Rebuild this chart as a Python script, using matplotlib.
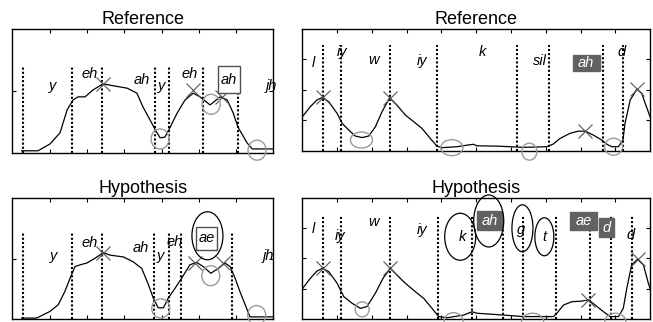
import numpy as np
import matplotlib.pyplot as plt
from matplotlib.patches import Ellipse, Rectangle

plt.rcParams['font.family'] = ['Liberation Sans', 'DejaVu Sans']

FIG_W, FIG_H = 653, 322

# ---------- top left: Reference, utterance 1 ----------
tl_curve_x = [0.25, 0.69, 1.01, 1.28, 1.47, 1.63, 1.76, 1.95, 2.16, 2.43, 2.70, 3.08, 3.34, 3.50, 3.69, 3.83,
              3.96, 4.09, 4.23, 4.42, 4.63, 4.85, 5.03, 5.30, 5.57, 5.76, 5.92, 6.05, 6.29, 6.43, 6.99]
tl_curve_y = [0.04, 0.04, 0.15, 0.33, 0.70, 0.86, 0.91, 0.91, 1.02, 1.12, 1.09, 1.05, 0.97, 0.75, 0.54, 0.38,
              0.25, 0.26, 0.42, 0.65, 0.86, 0.97, 0.91, 0.78, 0.91, 0.86, 0.65, 0.42, 0.17, 0.07, 0.07]
tl_cross_x = [2.43, 4.85, 5.61]
tl_cross_y = [1.12, 1.02, 0.91]
tl_circ_x = [3.96, 5.33, 6.56]
tl_circ_y = [0.23, 0.79, 0.05]
tl_bounds = [0.30, 1.61, 2.41, 3.82, 4.21, 5.12, 6.06]
tl_labels = ['y', 'eh', 'ah', 'y', 'eh', 'ah', 'jh']
tl_lab_x = [1.09, 2.06, 3.48, 3.99, 4.76, 5.81, 6.94]
tl_lab_y = [1.09, 1.28, 1.18, 1.09, 1.28, 1.19, 1.09]
tl_kinds = ['plain', 'plain', 'plain', 'plain', 'plain', 'frame', 'plain']

# ---------- bottom left: Hypothesis, utterance 1 ----------
bl_curve_x = [0.25, 0.65, 1.01, 1.23, 1.41, 1.55, 1.68, 1.82, 2.00, 2.22, 2.44, 2.62, 2.98, 3.24, 3.47, 3.65,
              3.78, 3.91, 4.05, 4.18, 4.36, 4.54, 4.76, 4.94, 5.12, 5.32, 5.52, 5.70, 5.84, 5.97, 6.10, 6.28,
              6.37, 7.00]
bl_curve_y = [0.02, 0.02, 0.13, 0.24, 0.46, 0.68, 0.87, 0.90, 0.93, 1.01, 1.10, 1.06, 1.03, 0.95, 0.84, 0.57,
              0.35, 0.19, 0.19, 0.35, 0.51, 0.68, 0.90, 0.94, 0.87, 0.76, 0.84, 0.93, 0.87, 0.68, 0.46, 0.18,
              0.04, 0.04]
bl_cross_x = [2.44, 4.90, 5.64]
bl_cross_y = [1.10, 0.93, 0.93]
bl_circ_x = [3.98, 5.32, 6.55]
bl_circ_y = [0.18, 0.72, 0.07]
bl_bounds = [0.30, 1.61, 2.40, 3.81, 4.21, 4.52, 5.90]
bl_labels = ['y', 'eh', 'ah', 'y', 'eh', 'ae', 'jh']
bl_lab_x = [1.10, 2.06, 3.44, 3.98, 4.36, 5.21, 6.86]
bl_lab_y = [1.05, 1.26, 1.17, 1.05, 1.27, 1.34, 1.05]
bl_kinds = ['plain', 'plain', 'plain', 'plain', 'plain', 'frame', 'plain']
bl_err_x = [5.23]
bl_err_y = [1.38]

# ---------- top right: Reference, utterance 2 ----------
tr_curve_x = [0.0, 0.23, 0.42, 0.58, 0.76, 1.00, 1.14, 1.33, 1.52, 1.72, 1.91, 2.10, 2.29, 2.51, 2.72, 2.96,
              3.20, 3.44, 3.68, 3.87, 4.01, 4.45, 4.73, 4.92, 5.02, 5.59, 6.36, 7.03, 7.22, 7.41, 7.70, 7.94,
              8.13, 8.37, 8.61, 8.76, 8.90, 9.09, 9.22, 9.28, 9.43, 9.62, 9.76, 9.86, 10.0]
tr_curve_y = [1.12, 1.45, 1.67, 1.75, 1.61, 1.23, 0.91, 0.69, 0.49, 0.44, 0.49, 0.79, 1.28, 1.74, 1.50, 1.18,
              0.96, 0.74, 0.41, 0.16, 0.11, 0.14, 0.19, 0.22, 0.17, 0.16, 0.12, 0.14, 0.23, 0.41, 0.58, 0.65,
              0.65, 0.52, 0.36, 0.22, 0.14, 0.14, 0.36, 0.91, 1.67, 2.02, 1.89, 1.56, 1.12]
tr_cross_x = [0.58, 2.51, 8.13, 9.62]
tr_cross_y = [1.75, 1.74, 0.66, 2.02]
tr_circ_x = [1.70, 4.30, 6.53, 8.95]
tr_circ_y = [0.36, 0.11, -0.02, 0.14]
tr_bounds = [0.58, 1.11, 2.51, 3.87, 6.17, 7.08, 8.66, 9.23]
tr_labels = ['l', 'iy', 'w', 'iy', 'k', 'sil', 'ah', 'd']
tr_lab_x = [0.32, 1.14, 2.05, 3.44, 5.19, 6.82, 8.16, 9.19]
tr_lab_y = [2.87, 3.25, 2.99, 2.94, 3.25, 2.94, 2.88, 3.25]
tr_kinds = ['plain', 'plain', 'plain', 'plain', 'plain', 'plain', 'dark', 'plain']

# ---------- bottom right: Hypothesis, utterance 2 ----------
br_curve_x = [0.01, 0.23, 0.42, 0.58, 0.76, 1.00, 1.19, 1.43, 1.67, 1.86, 2.10, 2.32, 2.53, 2.72, 2.96, 3.25,
              3.49, 3.73, 3.92, 4.16, 4.64, 4.88, 5.02, 5.79, 6.36, 7.22, 7.32, 7.51, 7.75, 8.04, 8.23, 8.42,
              8.66, 8.85, 9.09, 9.23, 9.33, 9.47, 9.64, 9.81, 9.95, 10.0]
br_curve_y = [1.01, 1.34, 1.58, 1.67, 1.56, 1.18, 0.74, 0.52, 0.35, 0.41, 0.85, 1.34, 1.67, 1.45, 1.18, 0.90,
              0.68, 0.35, 0.08, 0.04, 0.13, 0.24, 0.19, 0.13, 0.08, 0.08, 0.19, 0.46, 0.57, 0.59, 0.63, 0.46,
              0.24, 0.08, 0.08, 0.35, 1.01, 1.78, 1.97, 1.78, 1.18, 1.01]
br_cross_x = [0.58, 2.53, 8.22, 9.64]
br_cross_y = [1.67, 1.67, 0.63, 1.97]
br_circ_x = [1.72, 4.35, 6.62, 9.00]
br_circ_y = [0.32, -0.07, -0.09, -0.09]
br_bounds = [0.58, 1.11, 2.51, 3.89, 4.89, 5.78, 6.36, 7.30, 8.26, 8.87, 9.47]
br_labels = ['l', 'iy', 'w', 'iy', 'k', 'ah', 'g', 't', 'ae', 'd', 'd']
br_lab_x = [0.32, 1.09, 2.05, 3.44, 4.59, 5.39, 6.28, 6.96, 8.08, 8.74, 9.43]
br_lab_y = [2.98, 2.74, 3.21, 2.94, 2.71, 3.24, 2.94, 2.71, 3.24, 3.01, 2.77]
br_kinds = ['plain', 'plain', 'plain', 'plain', 'plain', 'dark', 'plain', 'plain', 'dark', 'dark', 'plain']
br_err_x = [4.54, 5.36, 6.33, 6.96]
br_err_y = [2.71, 3.23, 2.99, 2.71]


def px_to_data(ax, w_px, h_px):
    pos = ax.get_position()
    x0, x1 = ax.get_xlim()
    y0, y1 = ax.get_ylim()
    return (w_px * (x1 - x0) / (pos.width * FIG_W),
            h_px * (y1 - y0) / (pos.height * FIG_H))


def draw_panel(ax, title, xmax, ymax, cx, cy, kx, ky, ox, oy, circ_sizes, bounds, bound_top,
               labels, lx, ly, kinds, box_sizes, ex=(), ey=(), err_sizes=()):
    ax.set_xlim(0, xmax)
    ax.set_ylim(0, ymax)
    ax.set_xticks(range(1, xmax))
    ax.set_yticks(range(1, ymax))
    ax.tick_params(direction='in', length=3, width=0.8, top=True, right=True,
                   labelbottom=False, labelleft=False)
    for s in ax.spines.values():
        s.set_linewidth(1.0)
    ax.set_title(title, fontsize=13, pad=3.5)

    ax.vlines(bounds, 0, bound_top, colors='k', linestyles=(0, (1, 1.0)), lw=1.5, zorder=1)
    ax.plot(cx, cy, color='k', lw=0.9, zorder=2)
    ax.plot(kx, ky, 'x', color='#555555', ms=10, mew=0.8, zorder=2)

    for x, y, (w, h) in zip(ox, oy, circ_sizes):
        dw, dh = px_to_data(ax, w, h)
        ax.add_patch(Ellipse((x, y), dw, dh, fill=False, ec='#9a9a9a', lw=1.0, clip_on=False, zorder=3))

    for x, y, (w, h) in zip(ex, ey, err_sizes):
        dw, dh = px_to_data(ax, w, h)
        ax.add_patch(Ellipse((x, y), dw, dh, fill=False, ec='k', lw=0.9, clip_on=False, zorder=5))

    bi = 0
    for t, x, y, k in zip(labels, lx, ly, kinds):
        color = 'k'
        if k != 'plain':
            w, h = box_sizes[bi]
            bi += 1
            dw, dh = px_to_data(ax, w, h)
            if k == 'dark':
                fc, ec, color = '#616161', '#616161', 'white'
            else:
                fc, ec = 'white', '#505050'
            ax.add_patch(Rectangle((x - dw / 2, y - dh / 2), dw, dh, fc=fc, ec=ec, lw=1.0, zorder=4))
        ax.text(x, y, t, style='italic', fontsize=10.5, ha='center', va='center', color=color, zorder=6)


fig = plt.figure(figsize=(FIG_W / 100, FIG_H / 100), dpi=100)
ax_tl = fig.add_axes([0.0188, 0.524, 0.400, 0.385])
ax_tr = fig.add_axes([0.463, 0.531, 0.5325, 0.380])
ax_bl = fig.add_axes([0.0188, 0.0084, 0.400, 0.376])
ax_br = fig.add_axes([0.463, 0.0093, 0.5325, 0.377])

draw_panel(ax_tl, 'Reference', 7, 2, tl_curve_x, tl_curve_y, tl_cross_x, tl_cross_y,
           tl_circ_x, tl_circ_y, [(18, 20)] * 3, tl_bounds, 1.40,
           tl_labels, tl_lab_x, tl_lab_y, tl_kinds, [(22, 27)])
draw_panel(ax_bl, 'Hypothesis', 7, 2, bl_curve_x, bl_curve_y, bl_cross_x, bl_cross_y,
           bl_circ_x, bl_circ_y, [(18, 19), (18, 20), (18, 19)], bl_bounds, 1.42,
           bl_labels, bl_lab_x, bl_lab_y, bl_kinds, [(21, 23)],
           bl_err_x, bl_err_y, [(31, 48)])
draw_panel(ax_tr, 'Reference', 10, 4, tr_curve_x, tr_curve_y, tr_cross_x, tr_cross_y,
           tr_circ_x, tr_circ_y, [(22, 16), (22, 16), (15, 17), (18, 17)], tr_bounds, 3.46,
           tr_labels, tr_lab_x, tr_lab_y, tr_kinds, [(27, 16)])
draw_panel(ax_br, 'Hypothesis', 10, 4, br_curve_x, br_curve_y, br_cross_x, br_cross_y,
           br_circ_x, br_circ_y, [(14, 15), (19, 17), (22, 17), (21, 17)], br_bounds, 3.43,
           br_labels, br_lab_x, br_lab_y, br_kinds, [(25, 19), (27, 18), (15, 19)],
           br_err_x, br_err_y, [(31, 47), (30, 52), (21, 47), (19, 38)])

fig.savefig('out.png', dpi=100)
